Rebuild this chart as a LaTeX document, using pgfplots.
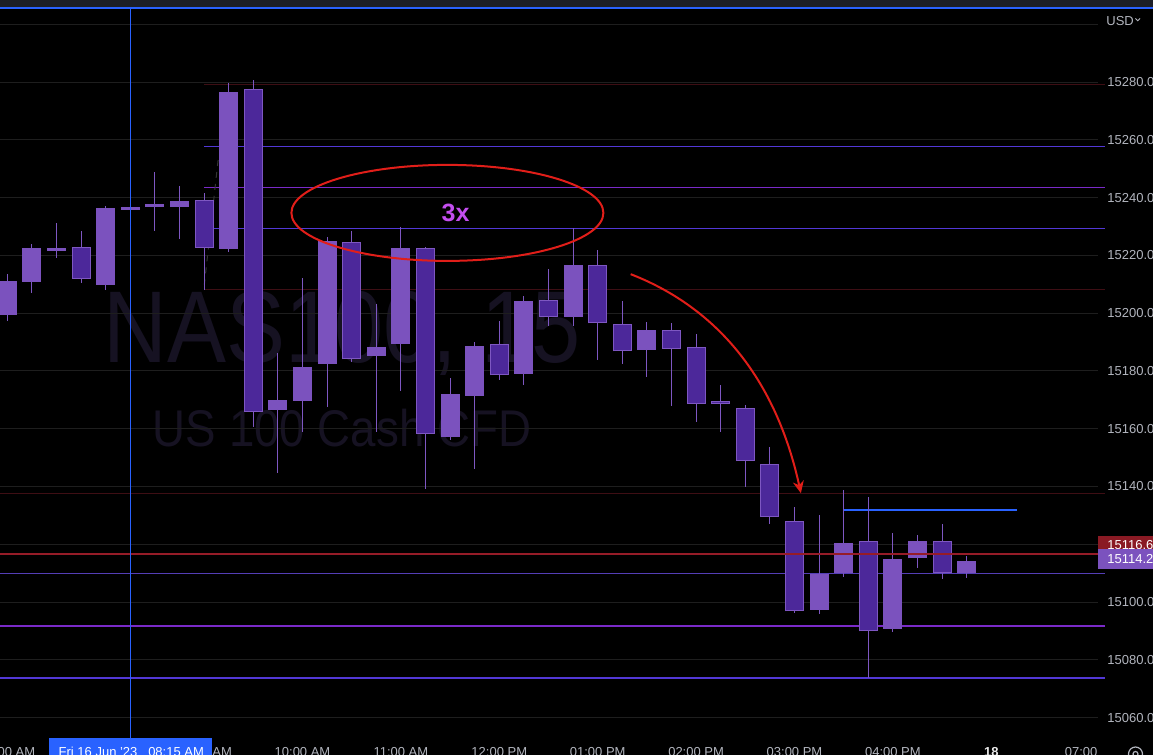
\documentclass[border=0pt]{standalone}
\usepackage{fontspec}
\setmainfont{Liberation Sans}
\usepackage{pgfplots}
\pgfplotsset{compat=1.18}
\usepackage{pgfplotstable}
\usetikzlibrary{arrows.meta}

\definecolor{bullc}{RGB}{123,82,190}
\definecolor{bearc}{RGB}{76,40,154}
\definecolor{wickc}{RGB}{126,87,194}
\definecolor{gridc}{RGB}{30,30,30}
\definecolor{axtext}{RGB}{178,181,190}
\definecolor{tvblue}{RGB}{41,98,255}
\definecolor{lineA}{RGB}{82,56,214}
\definecolor{lineB}{RGB}{122,42,200}
\definecolor{lineC}{RGB}{84,62,182}
\definecolor{dred}{RGB}{62,14,20}
\definecolor{curred}{RGB}{150,28,40}
\definecolor{redbox}{RGB}{138,26,36}
\definecolor{wm}{RGB}{22,18,34}
\definecolor{annot}{RGB}{225,30,25}
\definecolor{threex}{RGB}{196,78,240}
\definecolor{topbar}{RGB}{28,31,40}

% bullish candles: index open high low close
\pgfplotstableread{
x o h l c
0 15199.5 15213.6 15197.4 15211.1
1 15210.9 15224.0 15207.1 15222.6
2 15221.6 15231.2 15219.2 15222.6
4 15209.8 15237.1 15208.0 15236.4
5 15235.8 15240.6 15230.5 15236.4
6 15236.9 15248.9 15228.5 15237.4
7 15236.9 15244.0 15225.7 15238.8
9 15222.2 15279.7 15221.2 15276.5
11 15166.5 15186.1 15144.6 15170.0
12 15169.7 15212.1 15159.0 15181.4
13 15182.5 15226.3 15167.6 15225.0
15 15185.3 15203.2 15159.0 15188.3
16 15189.4 15229.8 15173.2 15222.6
18 15157.3 15177.5 15156.1 15172.0
19 15171.5 15189.9 15146.2 15188.6
21 15179.1 15206.0 15175.3 15204.2
23 15198.8 15229.4 15195.7 15216.6
26 15187.4 15197.0 15178.0 15194.2
33 15097.4 15130.2 15096.0 15109.8
34 15110.0 15138.8 15108.8 15120.5
36 15090.8 15123.9 15089.8 15114.8
37 15115.1 15123.1 15111.9 15121.1
39 15110.0 15116.0 15108.5 15114.2
}\bulltab

% bearish candles: index open high low close
\pgfplotstableread{
x o h l c
3 15222.8 15228.4 15210.6 15211.9
8 15239.1 15241.7 15208.0 15222.7
10 15277.5 15280.7 15160.7 15165.9
14 15224.5 15228.4 15183.2 15184.0
17 15222.5 15223.0 15139.1 15158.1
20 15189.2 15197.3 15176.9 15178.5
22 15204.5 15215.3 15195.7 15198.6
24 15216.6 15221.9 15183.9 15196.5
25 15196.2 15204.2 15182.5 15186.8
27 15194.1 15196.6 15168.0 15187.7
28 15188.2 15192.8 15162.5 15168.7
29 15169.5 15175.2 15159.0 15168.7
30 15167.1 15168.2 15140.0 15148.8
31 15147.7 15153.7 15127.1 15129.4
32 15128.0 15132.9 15096.4 15096.8
35 15121.1 15136.3 15073.7 15089.9
38 15121.1 15127.1 15108.1 15110.0
}\beartab

\pgfplotsset{
  candlebar/.style n args={2}{only marks, mark=*, mark size=0pt, mark options={draw=none,fill=none}, forget plot,
    error bars/.cd, y dir=plus, y explicit, error mark=none,
    error bar style={draw=#1, line width=#2}},
}

\begin{document}
\begin{tikzpicture}
\begin{scope}[x=0.5pt,y=0.5pt]
\fill[black] (0,0) rectangle (1153,755);
% watermark
\node[anchor=base, text=wm, font=\fontsize{51}{55}\selectfont, xscale=0.867, inner sep=0pt] at (342,392) {NAS100, 15};
\node[anchor=base, text=wm, font=\fontsize{25.8}{28}\selectfont, xscale=0.885, inner sep=0pt] at (342,308) {US 100 Cash CFD};
\end{scope}

\begin{axis}[
  at={(0pt,8.5pt)}, anchor=south west,
  scale only axis, width=549pt, height=364.75pt,
  xmin=-0.2967, xmax=44.337, ymin=15052.97, ymax=15305.44,
  clip=false,
  scaled ticks=false,
  axis line style={draw=none},
  tick style={draw=none},
  major tick length=0pt,
  ymajorgrids, grid style={gridc, line width=0.5pt},
  ytick={15060,15080,15100,15120,15140,15160,15180,15200,15220,15240,15260,15280,15300},
  yticklabels={15060.0,15080.0,15100.0,15120.0,15140.0,15160.0,15180.0,15200.0,15220.0,15240.0,15260.0,15280.0,{}},
  yticklabel pos=right,
  yticklabel style={anchor=west, inner sep=0pt, xshift=4.5pt, font=\fontsize{6.5}{7}\selectfont, text=axtext},
  xtick={0,8,12,16,20,24,28,32,36,40,43.65},
  xticklabels={07:00 AM,09:00 AM,10:00 AM,11:00 AM,12:00 PM,01:00 PM,02:00 PM,03:00 PM,04:00 PM,{\color{white!82!gray}\bfseries 18},07:00},
  xticklabel style={anchor=base, inner sep=0pt, yshift=-9.25pt, font=\fontsize{6.5}{7}\selectfont, text=axtext},
]
% drawn levels (behind candles)
\addplot[dred, line width=0.5pt, forget plot] coordinates {(8,15279.0) (44.62,15279.0)};
\addplot[dred, line width=0.5pt, forget plot] coordinates {(8,15208.3) (44.62,15208.3)};
\addplot[dred, line width=0.5pt, forget plot] coordinates {(-0.2967,15137.6) (44.62,15137.6)};
\addplot[lineA, line width=0.6pt, forget plot] coordinates {(8,15257.8) (44.62,15257.8)};
\addplot[lineB, line width=0.6pt, forget plot] coordinates {(8,15243.6) (44.62,15243.6)};
\addplot[lineA, line width=0.6pt, forget plot] coordinates {(8,15229.4) (44.62,15229.4)};
\addplot[lineC, line width=0.6pt, forget plot] coordinates {(-0.2967,15110.0) (44.62,15110.0)};
\addplot[lineB, line width=0.6pt, forget plot] coordinates {(-0.2967,15091.7) (44.62,15091.7)};
\addplot[lineA, line width=0.6pt, forget plot] coordinates {(-0.2967,15073.7) (44.62,15073.7)};
\addplot[gray!40!black, line width=0.5pt, dashed, forget plot] coordinates {(8.57,15253.0) (8.0,15209.1)};
\addplot[tvblue, line width=1pt, forget plot] coordinates {(33.98,15132.0) (41.06,15132.0)};

% wicks
\addplot[candlebar={wickc}{0.5pt}] table[x=x, y=l, y error expr=\thisrow{h}-\thisrow{l}] {\bulltab};
\addplot[candlebar={wickc}{0.5pt}] table[x=x, y=l, y error expr=\thisrow{h}-\thisrow{l}] {\beartab};
% bodies
\addplot[candlebar={bullc}{9.5pt}] table[x=x, y=o, y error expr={max(\thisrow{c}-\thisrow{o},0.9)}] {\bulltab};
\addplot[candlebar={wickc}{9.5pt}] table[x=x, y=c, y error expr={max(\thisrow{o}-\thisrow{c},0.9)}] {\beartab};
\addplot[candlebar={bearc}{8.5pt}] table[x=x, y expr=\thisrow{c}+0.35, y error expr={max(\thisrow{o}-\thisrow{c}-0.7,0.1)}] {\beartab};

% current price line and crosshair
\addplot[curred, line width=1pt, forget plot] coordinates {(-0.2967,15116.6) (44.62,15116.6)};
\addplot[tvblue, line width=0.5pt, forget plot] coordinates {(5,15052.97) (5,15305.44)};

% annotations
\draw[annot, line width=1pt] (axis cs:17.89,15234.7) ellipse [x radius=78pt, y radius=24pt];
\node[text=threex, font=\bfseries\fontsize{12.5}{14}\selectfont] at (axis cs:18.22,15234.7) {3x};
\draw[annot, line width=1pt, -{Stealth[length=6pt,width=5.5pt]}] (axis cs:25.34,15213.5) .. controls (axis cs:28.96,15201.5) and (axis cs:31.27,15176.2) .. (axis cs:32.26,15137.7);
\end{axis}

\begin{scope}[x=0.5pt,y=0.5pt]
% top bar
\fill[topbar] (0,747.5) rectangle (1153,755);
\fill[tvblue] (0,745.8) rectangle (1153,747.7);
% currency
\node[anchor=base west, inner sep=0pt, text=axtext, font=\fontsize{6.5}{7}\selectfont] at (1106,729.5) {USD};
\draw[axtext, line width=0.45pt] (1135.5,736.5) -- (1137.8,734.2) -- (1140.1,736.5);
% price labels
\fill[redbox] (1098,200) rectangle (1153,219);
\node[anchor=west, inner sep=0pt, text=white, font=\fontsize{6.5}{7}\selectfont] at (1107,210) {15116.6};
\fill[bullc] (1098,185.7) rectangle (1153,206.4);
\node[anchor=west, inner sep=0pt, text=white, font=\fontsize{6.5}{7}\selectfont] at (1107,195.5) {15114.2};
% date box
\fill[tvblue] (49.3,-2) rectangle (211.7,16.7);
\node[anchor=base west, inner sep=0pt, text=white, font=\fontsize{6.5}{7}\selectfont] at (58.3,-1.5) {Fri 16 Jun '23 \ \ 08:15 AM};
% settings icon
\draw[axtext, line width=0.6pt] (1135.5,1) circle (7);
\draw[axtext, line width=0.6pt] (1135.5,1) circle (2.5);
\end{scope}
\pgfresetboundingbox
\path[use as bounding box] (0pt,0pt) rectangle (576.5pt,377.5pt);
\end{tikzpicture}
\end{document}
